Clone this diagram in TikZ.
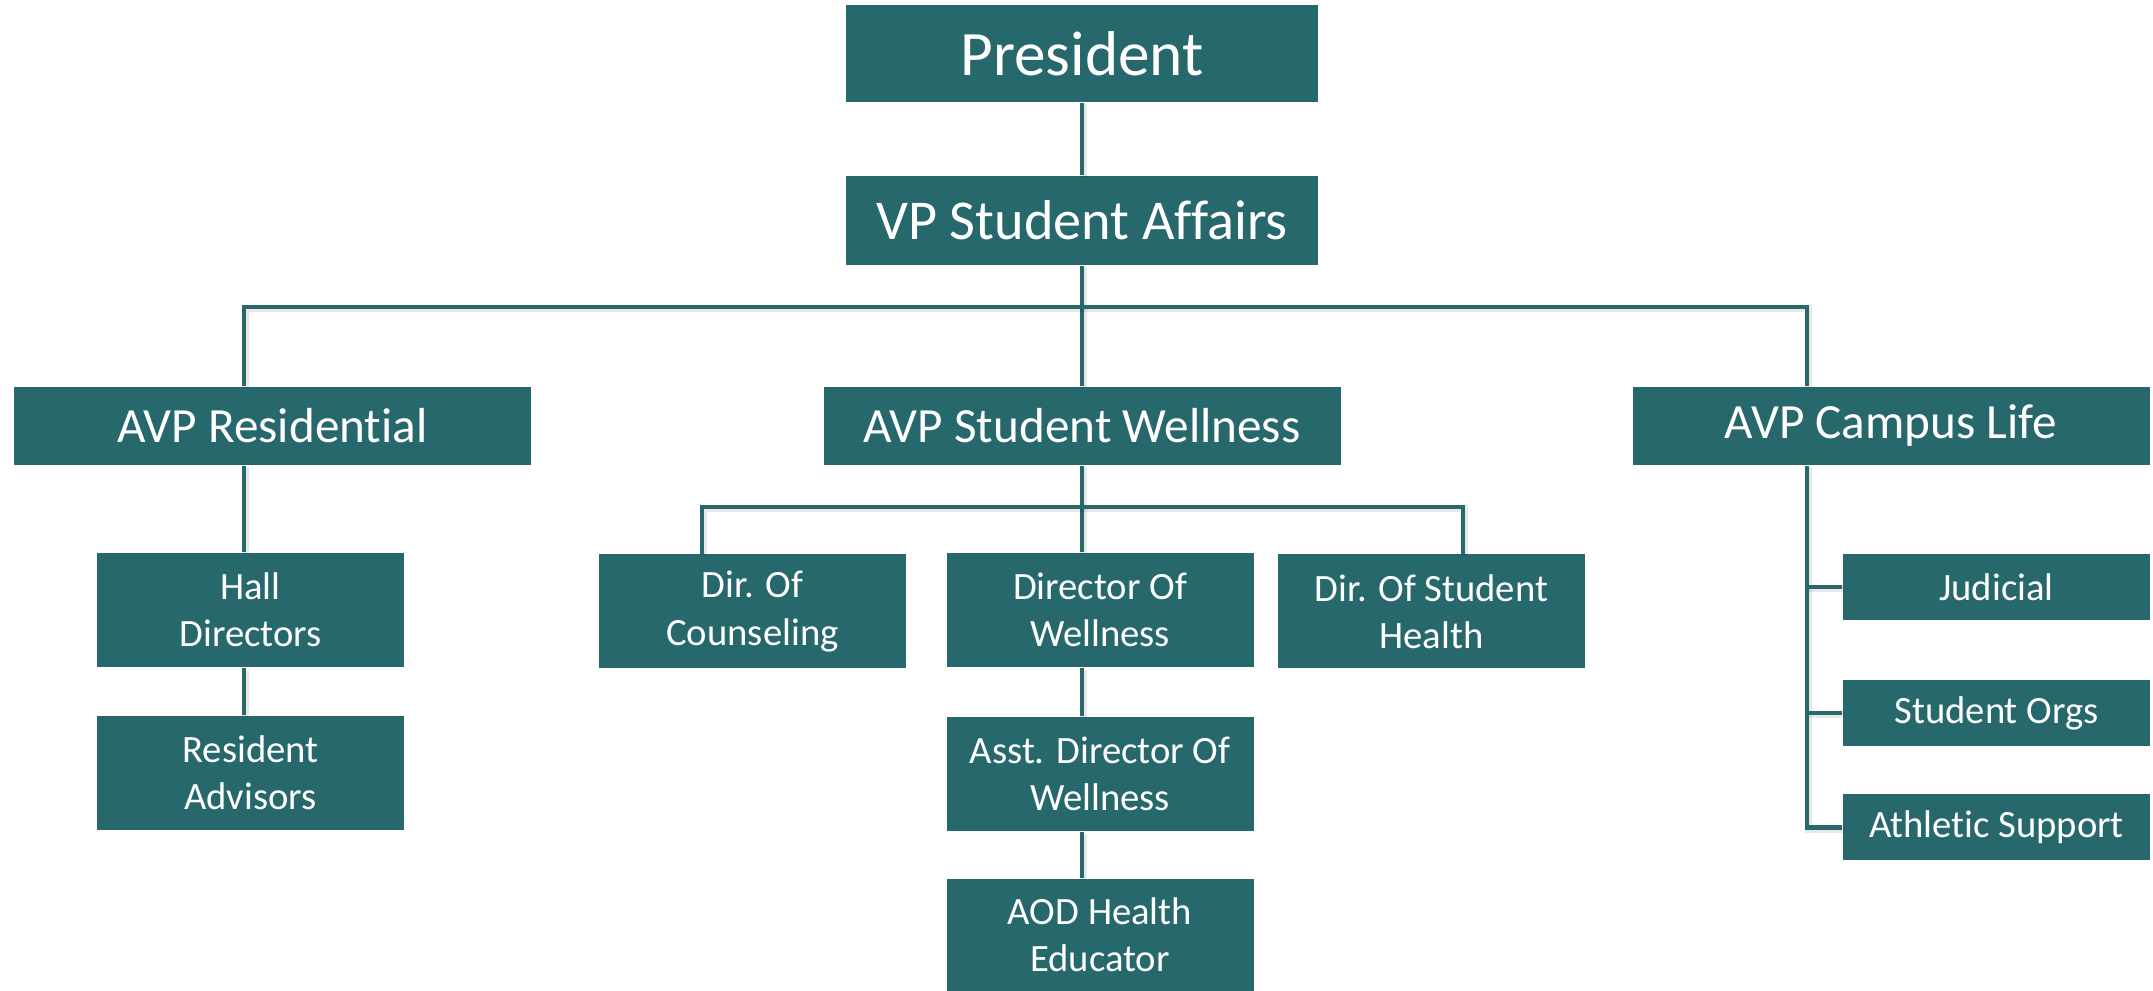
\documentclass[tikz,border=0pt]{standalone}
\usepackage{fontspec}
\setmainfont{Carlito}[Ligatures={NoCommon,NoContextual}, RawFeature={-ccmp;-dlig}]
\usetikzlibrary{positioning,calc}
\definecolor{orgteal}{RGB}{39,104,109}

\begin{document}
\begin{tikzpicture}[
    unit/.style={rectangle, fill=orgteal, text=white, inner sep=0pt, align=center},
    headbox/.style={unit, minimum width=4.72cm},
    avpbox/.style={unit, minimum width=5.17cm, minimum height=0.78cm,
                   font=\fontsize{14}{17}\selectfont},
    staffbox/.style={unit, minimum width=3.07cm, minimum height=1.14cm,
                     font=\fontsize{11}{13.4}\selectfont},
    wire/.style={draw=orgteal, line width=1.4pt,
                 preaction={draw=black, opacity=0.09, line width=2pt,
                            transform canvas={shift={(0.018,-0.018)}}}}
]
    \useasboundingbox (0,0) rectangle (21.53,-9.91);

    % Wires
    \coordinate (busL) at (2.44,-3.07);
    \coordinate (busR) at (18.07,-3.07);
    \coordinate (subL) at (7.02,-5.07);
    \coordinate (subR) at (14.63,-5.07);

    % Top
    \node[headbox, minimum height=0.97cm, font=\fontsize{18}{22}\selectfont] (pres) at (10.82,-0.535) {President};
    \node[headbox, minimum height=0.89cm, font=\fontsize{16}{19}\selectfont] (vp) at (10.82,-2.205) {VP Student Affairs};

    % AVP level
    \node[avpbox] (avpres) at (2.725,-4.26) {AVP Residential};
    \node[avpbox] (avpwell) at (10.82,-4.26) {AVP Student Wellness};
    \node[avpbox] (avplife) at (18.91,-4.26) {AVP Campus Life};

    % Residential
    \node[staffbox] (hall) at (2.505,-6.10) {Hall\\Directors};
    \node[staffbox] (ra) at (2.505,-7.73) {Resident\\Advisors};

    % Student Wellness
    \node[staffbox] (couns) at (7.525,-6.115) {Dir. Of\\Counseling};
    \node[staffbox] (dirwell) at (11.0,-6.10) {Director Of\\Wellness};
    \node[staffbox] (health) at (14.315,-6.115) {Dir. Of Student\\Health};
    \node[staffbox] (asst) at (11.0,-7.74) {Asst. Director Of\\Wellness};
    \node[staffbox, minimum height=1.12cm] (aod) at (11.0,-9.35) {AOD Health\\Educator};

    % Campus Life
    \node[staffbox, minimum height=0.66cm] (jud) at (19.965,-5.87) {Judicial};
    \node[staffbox, minimum height=0.66cm] (orgs) at (19.965,-7.13) {Student Orgs};
    \node[staffbox, minimum height=0.66cm] (ath) at (19.965,-8.275) {Athletic Support};

    \draw[wire] (pres) -- (vp);
    \draw[wire] (vp.south) -- (avpwell.north);
    \draw[wire] (avpres.north -| busL) -- (busL) -- (busR) -- (avplife.north -| busR);

    \draw[wire] (avpres.south -| busL) -- (hall.north -| busL);
    \draw[wire] (hall.south -| busL) -- (ra.north -| busL);

    \draw[wire] (avpwell.south) -- (dirwell.north -| avpwell);
    \draw[wire] (couns.north -| subL) -- (subL) -- (subR) -- (health.north -| subR);
    \draw[wire] (dirwell.south -| avpwell) -- (asst.north -| avpwell);
    \draw[wire] (asst.south -| avpwell) -- (aod.north -| avpwell);

    \draw[wire] (avplife.south -| busR) -- (ath.west -| busR) -- (ath.west);
    \draw[wire] (jud.west -| busR) -- (jud.west);
    \draw[wire] (orgs.west -| busR) -- (orgs.west);
\end{tikzpicture}
\end{document}
